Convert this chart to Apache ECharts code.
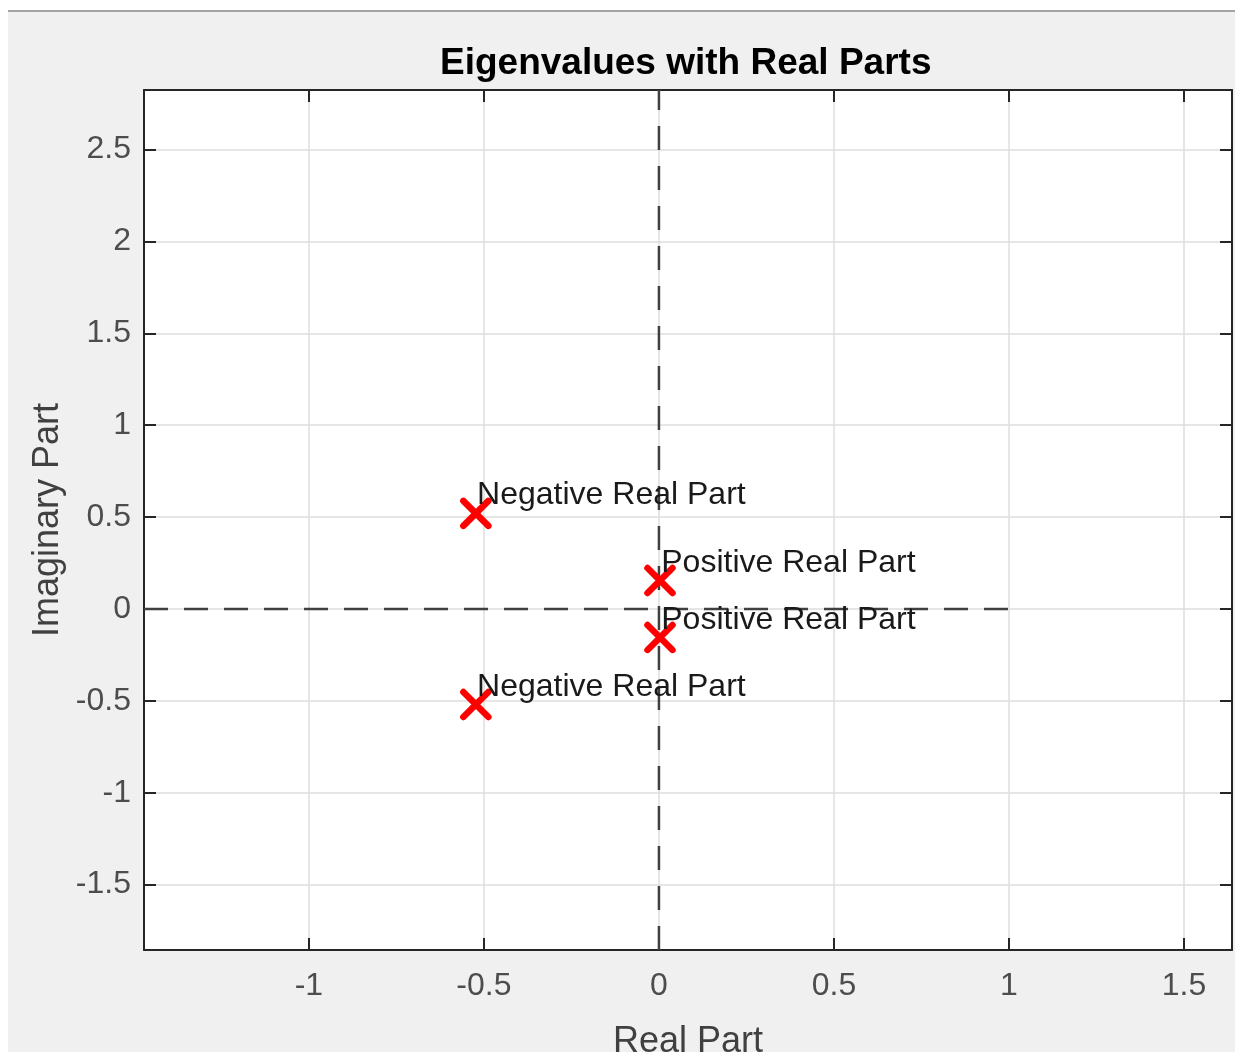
<!DOCTYPE html>
<html>
<head>
<meta charset="utf-8">
<title>Eigenvalues with Real Parts</title>
<script src="https://cdn.jsdelivr.net/npm/echarts@6/dist/echarts.min.js"></script>
<style>
  html, body { margin: 0; padding: 0; background: #fff; }
  #bg {
    position: absolute; left: 8px; top: 10px; right: 0; bottom: 0;
    background: #f0f0f0; border-top: 2px solid #a4a4a4;
  }
  #chart { position: absolute; left: 0; top: 0; width: 1235px; height: 1052px; }
</style>
</head>
<body>
<div id="bg"></div>
<div id="chart"></div>
<script>
  // eigenvalues (real, imaginary) and their text labels
  const realParts = [-0.523, -0.523, 0.003, 0.003]
  const imagParts = [0.52, -0.52, 0.155, -0.155]
  const pointLabels = ['Negative Real Part', 'Negative Real Part', 'Positive Real Part', 'Positive Real Part']

  const xTicks = [-1, -0.5, 0, 0.5, 1, 1.5]
  const yTicks = [-1.5, -1, -0.5, 0, 0.5, 1, 1.5, 2, 2.5]
  const xLimits = [-1.471, 1.637]
  const yLimits = [-1.856, 2.824]

  // dashed reference lines through the origin
  const hLine = [[xLimits[0], 0], [1, 0]]
  const vLine = [[0, yLimits[0]], [0, yLimits[1]]]

  const font = 'Liberation Sans, Arial, Helvetica, sans-serif'
  const axisColor = '#262626'

  let points = realParts.map((re, i) => ({ value: [re, imagParts[i]], name: pointLabels[i] }))

  function baseAxis(ticks, lim) {
    return {
      type: 'value',
      min: lim[0],
      max: lim[1],
      axisLine: { show: true, onZero: false, lineStyle: { color: axisColor, width: 2 } },
      axisTick: { show: true, inside: true, length: 12, customValues: ticks, lineStyle: { color: axisColor, width: 2 } },
      splitLine: { show: false },
      axisLabel: { show: false }
    }
  }

  let xBottom = baseAxis(xTicks, xLimits)
  xBottom.position = 'bottom'
  xBottom.splitLine = { show: true, lineStyle: { color: '#dedede', width: 1.5 } }
  xBottom.axisLabel = { show: true, customValues: xTicks, fontFamily: font, fontSize: 32, color: '#4d4d4d', margin: 20 }
  xBottom.name = 'Real Part'
  xBottom.nameLocation = 'middle'
  xBottom.nameGap = 74
  xBottom.nameMoveOverlap = false
  xBottom.nameTextStyle = { fontFamily: font, fontSize: 36, color: '#404040' }
  let xTop = baseAxis(xTicks, xLimits)
  xTop.position = 'top'

  let yLeft = baseAxis(yTicks, yLimits)
  yLeft.position = 'left'
  yLeft.splitLine = { show: true, lineStyle: { color: '#dedede', width: 1.5 } }
  yLeft.axisLabel = { show: true, customValues: yTicks, fontFamily: font, fontSize: 32, color: '#4d4d4d', margin: 13 }
  yLeft.name = 'Imaginary Part'
  yLeft.nameLocation = 'middle'
  yLeft.nameGap = 78
  yLeft.nameMoveOverlap = false
  yLeft.nameTextStyle = { fontFamily: font, fontSize: 36, color: '#404040' }
  let yRight = baseAxis(yTicks, yLimits)
  yRight.position = 'right'

  let chart = echarts.init(document.getElementById('chart'))
  chart.setOption({
    backgroundColor: 'transparent',
    animation: false,
    title: {
      text: 'Eigenvalues with Real Parts',
      left: 440,
      top: 45,
      padding: 0,
      textStyle: { fontFamily: font, fontSize: 37, fontWeight: 'bold', color: '#000' }
    },
    grid: {
      left: 144,
      top: 90,
      right: 3,
      bottom: 102,
      outerBoundsMode: 'none',
      containLabel: false,
      show: true,
      backgroundColor: '#fff',
      borderWidth: 0
    },
    xAxis: [xBottom, xTop],
    yAxis: [yLeft, yRight],
    series: [
      {
        type: 'line',
        data: hLine,
        symbol: 'none',
        silent: true,
        lineStyle: { color: '#404040', width: 2.5, type: [24, 16] },
        z: 3
      },
      {
        type: 'line',
        data: vLine,
        symbol: 'none',
        silent: true,
        lineStyle: { color: '#404040', width: 2.5, type: [24, 16] },
        z: 3
      },
      {
        type: 'scatter',
        data: points,
        symbol: 'path://M0,0L10,10M10,0L0,10',
        symbolSize: 25,
        itemStyle: { color: '#ff0000', borderColor: '#ff0000', borderWidth: 6.5, borderCap: 'round', opacity: 1 },
        label: {
          show: true,
          formatter: '{b}',
          position: [17, -2],
          align: 'left',
          verticalAlign: 'middle',
          fontFamily: font,
          fontSize: 32,
          color: '#1a1a1a'
        },
        z: 4
      }
    ]
  })
</script>
</body>
</html>
